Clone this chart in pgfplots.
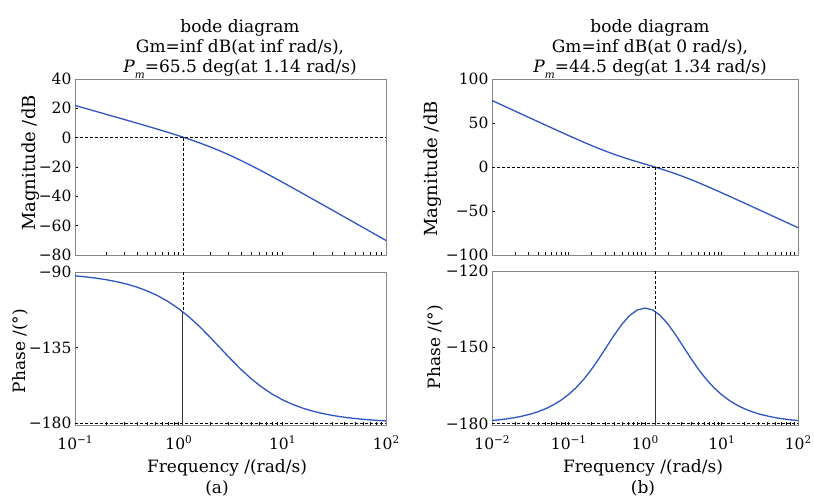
\documentclass[border=0pt]{standalone}
\usepackage{fontspec}
\setmainfont{DejaVu Serif}
\usepackage{pgfplots}
\pgfplotsset{compat=1.18}
\definecolor{bodeblue}{RGB}{45,85,195}
\definecolor{framegray}{RGB}{135,135,135}

\newcommand{\tk}{\fontsize{15.5}{15.5}\selectfont}
\newcommand{\dec}[1]{10\raisebox{6pt}{\fontsize{10.5}{10.5}\selectfont #1}}

\pgfplotsset{
  bodeaxis/.style={
    scale only axis,
    axis line style={framegray, line width=0.9pt},
    tick style={black, line width=0.5pt},
    xtick pos=left, ytick pos=left,
    tick align=inside,
    major tick length=3pt, minor tick length=3pt,
    ticklabel style={font=\tk},
    xticklabel style={yshift=-7pt},
  },
}
\tikzset{
  bodecurve/.style={bodeblue, line width=1.3pt},
  bodeguide/.style={black, line width=0.7pt, dash pattern=on 3pt off 2pt},
  bodestem/.style={black!80, line width=1pt},
}

\begin{document}
\begin{tikzpicture}
\useasboundingbox (0,0) rectangle (814pt,497pt);

% ---------------- (a) magnitude
\begin{semilogxaxis}[bodeaxis, at={(75pt,242pt)}, anchor=south west,
    width=311pt, height=176pt,
    xmin=0.1, xmax=100, ymin=-80, ymax=40,
    xtick={0.1,1,10,100}, xticklabels={},
    ytick={-80,-60,-40,-20,0,20,40},
    yticklabels={−80,−60,−40,−20,0,20,40}]
\addplot[bodecurve, mark=none] coordinates {
 (0.1,21.95) (0.1259,19.95) (0.1585,17.94) (0.1995,15.93) (0.2512,13.92)
 (0.3162,11.89) (0.3981,9.85) (0.5012,7.79) (0.631,5.69) (0.7943,3.54)
 (1,1.31) (1.259,-1.02) (1.585,-3.51) (1.995,-6.18) (2.512,-9.07)
 (3.162,-12.19) (3.981,-15.53) (5.012,-19.04) (6.31,-22.71) (7.943,-26.49)
 (10,-30.34) (12.59,-34.25) (15.85,-38.19) (19.95,-42.15) (25.12,-46.13)
 (31.62,-50.11) (39.81,-54.10) (50.12,-58.09) (63.1,-62.09) (79.43,-66.08)
 (100,-70.08)};
\addplot[bodeguide, mark=none] coordinates {(0.1,0) (100,0)};
\addplot[bodeguide, mark=none] coordinates {(1.1,0) (1.1,-80)};
\end{semilogxaxis}

% ---------------- (a) phase
\begin{semilogxaxis}[bodeaxis, at={(75pt,72pt)}, anchor=south west,
    width=311pt, height=153pt,
    xmin=0.1, xmax=100, ymin=-181, ymax=-90,
    xtick={0.1,1,10,100},
    xticklabels={\dec{−1},\dec{0},\dec{1},\dec{2}},
    ytick={-180,-135,-90},
    yticklabels={−180,−135,−90}]
\addplot[bodecurve, mark=none] coordinates {
 (0.1,-92.29) (0.1259,-92.88) (0.1585,-93.63) (0.1995,-94.56) (0.2512,-95.74)
 (0.3162,-97.21) (0.3981,-99.05) (0.5012,-101.34) (0.631,-104.17) (0.7943,-107.63)
 (1,-111.80) (1.259,-116.73) (1.585,-122.37) (1.995,-128.60) (2.512,-135.14)
 (3.162,-141.67) (3.981,-147.87) (5.012,-153.50) (6.31,-158.39) (7.943,-162.53)
 (10,-165.96) (12.59,-168.77) (15.85,-171.04) (19.95,-172.86) (25.12,-174.32)
 (31.62,-175.48) (39.81,-176.41) (50.12,-177.14) (63.1,-177.73) (79.43,-178.20)
 (100,-178.57)};
\addplot[bodeguide, mark=none] coordinates {(0.1,-180) (100,-180)};
\addplot[bodeguide, mark=none] coordinates {(1.1,-90) (1.1,-113.75)};
\addplot[bodestem, mark=none] coordinates {(1.1,-113.75) (1.1,-181)};
\end{semilogxaxis}

% ---------------- (b) magnitude
\begin{semilogxaxis}[bodeaxis, at={(492pt,242pt)}, anchor=south west,
    width=306pt, height=176pt,
    xmin=0.01, xmax=100, ymin=-100, ymax=100,
    xtick={0.01,0.1,1,10,100}, xticklabels={},
    ytick={-100,-50,0,50,100},
    yticklabels={−100,−50,0,50,100}]
\addplot[bodecurve, mark=none] coordinates {
 (0.01,75.56) (0.01259,71.56) (0.01585,67.56) (0.01995,63.56) (0.02512,59.57)
 (0.03162,55.58) (0.03981,51.59) (0.05012,47.61) (0.0631,43.65) (0.07943,39.71)
 (0.1,35.80) (0.1259,31.93) (0.1585,28.14) (0.1995,24.45) (0.2512,20.89)
 (0.3162,17.51) (0.3981,14.32) (0.5012,11.34) (0.631,8.55) (0.7943,5.89)
 (1,3.30) (1.259,0.71) (1.585,-1.95) (1.995,-4.75) (2.512,-7.73)
 (3.162,-10.91) (3.981,-14.29) (5.012,-17.85) (6.31,-21.54) (7.943,-25.34)
 (10,-29.20) (12.59,-33.11) (15.85,-37.05) (19.95,-41.02) (25.12,-44.99)
 (31.62,-48.98) (39.81,-52.97) (50.12,-56.96) (63.1,-60.96) (79.43,-64.96)
 (100,-68.96)};
\addplot[bodeguide, mark=none] coordinates {(0.01,0) (100,0)};
\addplot[bodeguide, mark=none] coordinates {(1.36,0) (1.36,-100)};
\end{semilogxaxis}

% ---------------- (b) phase
\begin{semilogxaxis}[bodeaxis, at={(492pt,72pt)}, anchor=south west,
    width=306pt, height=154pt,
    xmin=0.01, xmax=100, ymin=-180.6, ymax=-120,
    xtick={0.01,0.1,1,10,100},
    xticklabels={\dec{−2},\dec{−1},\dec{0},\dec{1},\dec{2}},
    ytick={-180,-150,-120},
    yticklabels={−180,−150,−120}]
\addplot[bodecurve, mark=none] coordinates {
 (0.01,-178.84) (0.01259,-178.54) (0.01585,-178.16) (0.01995,-177.68) (0.02512,-177.08)
 (0.03162,-176.33) (0.03981,-175.39) (0.05012,-174.21) (0.0631,-172.73) (0.07943,-170.90)
 (0.1,-168.64) (0.1259,-165.88) (0.1585,-162.58) (0.1995,-158.73) (0.2512,-154.38)
 (0.3162,-149.74) (0.3981,-145.11) (0.5012,-140.90) (0.631,-137.49) (0.7943,-135.33)
 (1,-134.59) (1.259,-135.33) (1.585,-137.50) (1.995,-140.88) (2.512,-145.10)
 (3.162,-149.74) (3.981,-154.38) (5.012,-158.72) (6.31,-162.58) (7.943,-165.88)
 (10,-168.64) (12.59,-170.90) (15.85,-172.73) (19.95,-174.21) (25.12,-175.39)
 (31.62,-176.33) (39.81,-177.08) (50.12,-177.68) (63.1,-178.16) (79.43,-178.54)
 (100,-178.84)};
\addplot[bodeguide, mark=none] coordinates {(0.01,-180) (100,-180)};
\addplot[bodeguide, mark=none] coordinates {(1.36,-120) (1.36,-135.92)};
\addplot[bodestem, mark=none] coordinates {(1.36,-135.92) (1.36,-180.6)};
\end{semilogxaxis}

% ---------------- titles and labels
\begin{scope}[every node/.style={font=\fontsize{17}{20}\selectfont, inner sep=0pt}]
\node[anchor=base] at (240pt,464pt) {bode diagram};
\node[anchor=base] at (240pt,444pt) {Gm=inf dB(at inf rad/s),};
\node[anchor=base] at (240pt,424pt) {\textit{P}\raisebox{-6pt}{\fontsize{10.5}{10.5}\selectfont\textit{m}}=65.5 deg(at 1.14 rad/s)};
\node[anchor=base] at (650pt,464pt) {bode diagram};
\node[anchor=base] at (650pt,444pt) {Gm=inf dB(at 0 rad/s),};
\node[anchor=base] at (650pt,424pt) {\textit{P}\raisebox{-6pt}{\fontsize{10.5}{10.5}\selectfont\textit{m}}=44.5 deg(at 1.34 rad/s)};

\node[rotate=90, font=\fontsize{18}{20}\selectfont] at (31pt,334pt) {Magnitude /dB};
\node[rotate=90] at (20pt,146pt) {Phase /(°)};
\node[rotate=90, font=\fontsize{18}{20}\selectfont] at (433pt,328pt) {Magnitude /dB};
\node[rotate=90] at (435pt,150pt) {Phase /(°)};

\node at (227pt,29pt) {Frequency /(rad/s)};
\node at (217pt,9pt) {(a)};
\node at (643pt,29pt) {Frequency /(rad/s)};
\node at (643pt,9pt) {(b)};
\end{scope}
\end{tikzpicture}
\end{document}
